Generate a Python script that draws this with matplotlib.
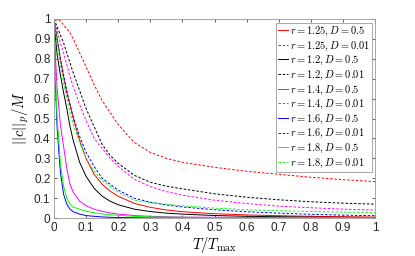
import numpy as np
import matplotlib.pyplot as plt
from matplotlib.ticker import MultipleLocator, FormatStrFormatter

plt.rcParams['mathtext.fontset'] = 'cm'
plt.rcParams['font.family'] = ['Liberation Sans', 'DejaVu Sans']

# sample positions along T/Tmax
t = [0, 0.005, 0.01, 0.02, 0.03, 0.04, 0.05, 0.06, 0.08, 0.1, 0.125, 0.15,
     0.175, 0.2, 0.25, 0.3, 0.35, 0.4, 0.5, 0.6, 0.7, 0.8, 0.9, 1.0]

# r = 1.25
r125_D05 = [1.0, 0.95, 0.9, 0.8, 0.71, 0.63, 0.57, 0.5, 0.39, 0.3, 0.22, 0.17,
            0.135, 0.11, 0.074, 0.054, 0.041, 0.032, 0.022, 0.016, 0.012, 0.009, 0.007, 0.005]
r125_D001 = [0.97, 0.99, 1.0, 0.99, 0.97, 0.95, 0.93, 0.9, 0.83, 0.76, 0.67, 0.59,
             0.53, 0.47, 0.38, 0.33, 0.3, 0.28, 0.255, 0.235, 0.22, 0.205, 0.193, 0.183]
# r = 1.2
r12_D05 = [1.0, 0.9, 0.82, 0.72, 0.63, 0.55, 0.46, 0.39, 0.28, 0.21, 0.15, 0.11,
           0.085, 0.067, 0.045, 0.033, 0.025, 0.02, 0.013, 0.009, 0.007, 0.005, 0.004, 0.003]
r12_D001 = [1.0, 0.98, 0.96, 0.92, 0.88, 0.83, 0.78, 0.73, 0.64, 0.55, 0.46, 0.37,
            0.315, 0.275, 0.215, 0.18, 0.16, 0.147, 0.122, 0.105, 0.092, 0.082, 0.075, 0.07]
# r = 1.4
r14_D05 = [1.0, 0.8, 0.65, 0.47, 0.36, 0.25, 0.17, 0.13, 0.085, 0.062, 0.045, 0.034,
           0.026, 0.02, 0.013, 0.009, 0.007, 0.005, 0.004, 0.003, 0.002, 0.002, 0.001, 0.001]
r14_D001 = [1.0, 0.97, 0.94, 0.88, 0.83, 0.77, 0.71, 0.66, 0.57, 0.49, 0.4, 0.35,
            0.3, 0.26, 0.195, 0.158, 0.133, 0.115, 0.09, 0.073, 0.06, 0.052, 0.045, 0.04]
# r = 1.6
r16_D05 = [1.0, 0.65, 0.45, 0.23, 0.12, 0.07, 0.045, 0.032, 0.02, 0.013, 0.009, 0.006,
           0.004, 0.003, 0.002, 0.001, 0.001, 0.001, 0.0, 0.0, 0.0, 0.0, 0.0, 0.0]
r16_D001 = [1.0, 0.95, 0.9, 0.8, 0.72, 0.64, 0.57, 0.51, 0.41, 0.33, 0.26, 0.2,
            0.17, 0.14, 0.1, 0.08, 0.066, 0.056, 0.042, 0.032, 0.025, 0.019, 0.015, 0.012]
# r = 1.8
r18_D05 = [1.0, 0.7, 0.5, 0.28, 0.16, 0.1, 0.07, 0.055, 0.045, 0.035, 0.027, 0.021,
           0.017, 0.014, 0.009, 0.006, 0.005, 0.004, 0.003, 0.002, 0.002, 0.002, 0.002, 0.002]
r18_D001 = [1.0, 0.94, 0.88, 0.77, 0.68, 0.6, 0.53, 0.47, 0.38, 0.3, 0.235, 0.19,
            0.16, 0.13, 0.09, 0.078, 0.069, 0.062, 0.05, 0.042, 0.037, 0.033, 0.03, 0.028]

series = [
    (r125_D05, 'r', '-', '$r = 1.25, D = 0.5$'),
    (r125_D001, 'r', '--', '$r = 1.25, D = 0.01$'),
    (r12_D05, 'k', '-', '$r = 1.2, D = 0.5$'),
    (r12_D001, 'k', '--', '$r = 1.2, D = 0.01$'),
    (r14_D05, '#ff00ff', '-', '$r = 1.4, D = 0.5$'),
    (r14_D001, '#ff00ff', '--', '$r = 1.4, D = 0.01$'),
    (r16_D05, 'b', '-', '$r = 1.6, D = 0.5$'),
    (r16_D001, 'b', '--', '$r = 1.6, D = 0.01$'),
    (r18_D05, '#00ff00', '-', '$r = 1.8, D = 0.5$'),
    (r18_D001, '#00ff00', '--', '$r = 1.8, D = 0.01$'),
]

fig = plt.figure(figsize=(4.15, 2.56), dpi=100)
ax = fig.add_axes([0.130, 0.148, 0.774, 0.778])

for vals, c, ls, lab in series:
    line, = ax.plot(t, vals, color=c, linestyle=ls, linewidth=0.7, label=lab)
    if ls == '--':
        line.set_dashes((2.6, 1.8))

ax.set_xlim(0, 1)
ax.set_ylim(0, 1)
ax.xaxis.set_major_locator(MultipleLocator(0.1))
ax.yaxis.set_major_locator(MultipleLocator(0.1))
ax.xaxis.set_major_formatter(FormatStrFormatter('%g'))
ax.yaxis.set_major_formatter(FormatStrFormatter('%g'))
ax.tick_params(direction='in', top=True, right=True, length=2.5, width=0.5,
               labelsize=8.5, colors='#262626', pad=2.5)
for s in ax.spines.values():
    s.set_color('#999999')
    s.set_linewidth(0.6)

ax.set_xlabel('$T/T_{\\max}$', fontsize=10.5, labelpad=1)
ax.set_ylabel('$||c||_p/M$', fontsize=10.5, labelpad=2)

leg = ax.legend(loc='upper right', fontsize=7.5, handlelength=0.9, handletextpad=0.2,
                labelspacing=0.12, borderpad=0.2, borderaxespad=0.35, fancybox=False,
                framealpha=1, edgecolor='#999999')
leg.get_frame().set_linewidth(0.6)

fig.savefig('out.png', dpi=100)
